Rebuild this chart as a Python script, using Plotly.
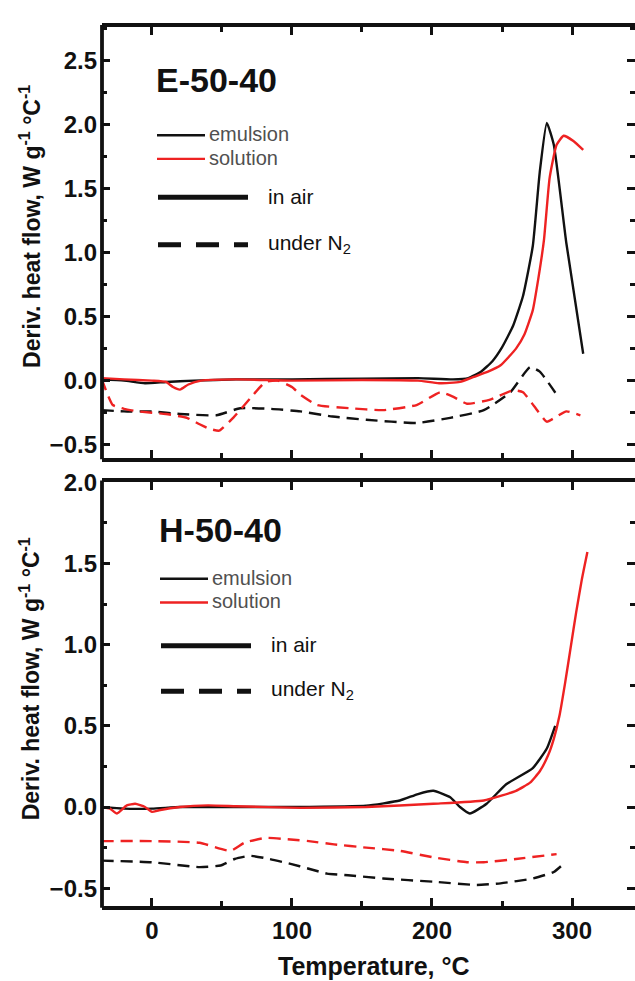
import plotly.graph_objects as go

# ---- E-50-40 (top panel) ----
e_air_emul_x = [-36, -20, -5, 10, 30, 60, 100, 150, 190, 215, 226, 235, 243, 250, 258, 265, 272, 277, 282, 287, 296, 308]
e_air_emul_y = [0.01, 0.0, -0.02, -0.01, 0.0, 0.01, 0.01, 0.015, 0.02, 0.01, 0.02, 0.07, 0.15, 0.26, 0.43, 0.66, 1.05, 1.63, 2.01, 1.84, 1.07, 0.21]

e_air_sol_x = [-36, -20, 0, 10, 15, 20, 26, 35, 60, 100, 150, 190, 205, 220, 230, 240, 249, 260, 266, 272, 276, 280, 284, 289, 294, 301, 308]
e_air_sol_y = [0.02, 0.01, 0.0, -0.01, -0.05, -0.07, -0.03, 0.0, 0.01, 0.0, 0.005, 0.0, -0.02, -0.01, 0.03, 0.07, 0.12, 0.25, 0.36, 0.55, 0.8, 1.1, 1.58, 1.84, 1.91, 1.87, 1.8]

e_n2_emul_x = [-36, -20, 0, 20, 46, 63, 85, 106, 129, 153, 189, 213, 237, 256, 270, 277, 291]
e_n2_emul_y = [-0.23, -0.24, -0.24, -0.26, -0.27, -0.215, -0.22, -0.24, -0.28, -0.305, -0.33, -0.29, -0.23, -0.09, 0.105, 0.07, -0.14]

e_n2_sol_x = [-36, -32, -28, -20, -10, 10, 25, 34, 41, 48, 58, 70, 81, 90, 100, 106, 118, 141, 165, 189, 206, 215, 225, 241, 258, 265, 273, 282, 289, 296, 306]
e_n2_sol_y = [0.015, -0.1, -0.19, -0.22, -0.24, -0.26, -0.29, -0.34, -0.375, -0.39, -0.29, -0.14, -0.01, 0.0, -0.05, -0.11, -0.19, -0.215, -0.23, -0.19, -0.09, -0.125, -0.18, -0.15, -0.075, -0.09, -0.2, -0.32, -0.28, -0.24, -0.27]

# ---- H-50-40 (bottom panel) ----
h_air_emul_x = [-36, -20, 0, 20, 50, 100, 153, 177, 190, 201, 213, 220, 227, 239, 253, 272, 282, 288]
h_air_emul_y = [0.0, -0.01, -0.01, 0.0, 0.0, 0.0, 0.008, 0.04, 0.08, 0.1, 0.06, 0.0, -0.04, 0.02, 0.14, 0.24, 0.36, 0.5]

h_air_sol_x = [-36, -30, -25, -18, -12, -5, 0, 5, 20, 40, 60, 106, 153, 201, 237, 260, 270, 277, 283, 287, 291, 295, 299, 303, 307, 311]
h_air_sol_y = [0.0, -0.01, -0.04, 0.01, 0.02, 0.0, -0.03, -0.02, 0.0, 0.01, 0.005, -0.005, 0.0, 0.02, 0.04, 0.1, 0.15, 0.22, 0.32, 0.42, 0.56, 0.76, 0.98, 1.2, 1.4, 1.57]

h_n2_emul_x = [-36, 0, 34, 49, 59, 70, 84, 99, 112, 125, 140, 165, 201, 232, 249, 272, 287, 294]
h_n2_emul_y = [-0.33, -0.34, -0.37, -0.36, -0.32, -0.30, -0.32, -0.35, -0.38, -0.41, -0.42, -0.44, -0.46, -0.48, -0.47, -0.44, -0.40, -0.35]

h_n2_sol_x = [-36, 0, 34, 56, 66, 81, 99, 112, 130, 153, 177, 201, 225, 237, 260, 289]
h_n2_sol_y = [-0.21, -0.21, -0.22, -0.27, -0.22, -0.19, -0.2, -0.21, -0.23, -0.25, -0.27, -0.31, -0.34, -0.34, -0.32, -0.29]

x_ticks = [0, 100, 200, 300]
top_y_ticks = [-0.5, 0.0, 0.5, 1.0, 1.5, 2.0, 2.5]
bot_y_ticks = [-0.5, 0.0, 0.5, 1.0, 1.5, 2.0]

W, H = 635, 981
FONT = "Liberation Sans"
BLACK = "#111111"
RED = "#ee2222"


def px(x):
    return x / W


def py(y):
    return 1 - y / H


fig = go.Figure()

series = [
    ("x", "y", e_air_emul_x, e_air_emul_y, BLACK, "solid"),
    ("x", "y", e_air_sol_x, e_air_sol_y, RED, "solid"),
    ("x", "y", e_n2_emul_x, e_n2_emul_y, BLACK, "12px,7px"),
    ("x", "y", e_n2_sol_x, e_n2_sol_y, RED, "12px,7px"),
    ("x2", "y2", h_air_emul_x, h_air_emul_y, BLACK, "solid"),
    ("x2", "y2", h_air_sol_x, h_air_sol_y, RED, "solid"),
    ("x2", "y2", h_n2_emul_x, h_n2_emul_y, BLACK, "12px,7px"),
    ("x2", "y2", h_n2_sol_x, h_n2_sol_y, RED, "12px,7px"),
]
for xa, ya, xs, ys, col, dash in series:
    fig.add_trace(go.Scatter(
        x=xs, y=ys, xaxis=xa, yaxis=ya, mode="lines",
        line=dict(color=col, width=2.4, dash=dash, shape="spline", smoothing=0.45),
        showlegend=False, hoverinfo="skip"))

x_range = [-35.7, 345]
tickfont = dict(family=FONT, size=24, color=BLACK, weight="bold")

xcommon = dict(
    range=x_range, showline=True, linewidth=3.8, linecolor=BLACK, mirror="ticks",
    ticks="inside", ticklen=8, tickwidth=3, tickcolor=BLACK,
    tickvals=x_ticks, showgrid=False, zeroline=False, tickfont=tickfont,
    minor=dict(ticks="inside", ticklen=5, tickwidth=3, tickcolor=BLACK, dtick=50, tick0=0, showgrid=False),
)
ycommon = dict(
    showline=False, mirror="ticks", ticks="inside", ticklen=8, tickwidth=3, tickcolor=BLACK,
    showgrid=False, zeroline=False, tickfont=tickfont, tickformat=".1f", ticklabelstandoff=4,
    minor=dict(ticks="inside", ticklen=5, tickwidth=3, tickcolor=BLACK, dtick=0.25, tick0=0, showgrid=False),
)

fig.update_layout(
    width=W, height=H, margin=dict(l=0, r=0, t=0, b=0),
    paper_bgcolor="white", plot_bgcolor="white",
    xaxis=dict(domain=[px(102), 1.0], anchor="y", showticklabels=False, **xcommon),
    yaxis=dict(domain=[py(450), py(13)], anchor="x", range=[-0.6, 2.76], tickvals=top_y_ticks, **ycommon),
    xaxis2=dict(domain=[px(102), 1.0], anchor="y2", showticklabels=True, **xcommon),
    yaxis2=dict(domain=[py(905), py(475)], anchor="x2", range=[-0.61, 2.0], tickvals=bot_y_ticks, **ycommon),
)

# left frame edges
for ya, xa in (("y", "x"), ("y2", "x2")):
    fig.add_shape(type="line", xref=f"{xa} domain", yref=f"{ya} domain",
                  x0=0, x1=0, y0=-0.004, y1=1.004, line=dict(color=BLACK, width=3.8))

ytitle = "Deriv. heat flow, W g<sup>-1</sup> °C<sup>-1</sup>"
for yc in (216, 675):
    fig.add_annotation(x=px(30), y=py(yc), xref="paper", yref="paper", text=ytitle,
                       textangle=-90, showarrow=False, xanchor="center", yanchor="middle",
                       font=dict(family=FONT, size=23, color=BLACK, weight="bold"))

fig.add_annotation(x=px(374), y=py(966), xref="paper", yref="paper", text="Temperature, °C",
                   showarrow=False, xanchor="center", yanchor="middle",
                   font=dict(family=FONT, size=25, color=BLACK, weight="bold"))

# panel labels and legends
panels = [("E-50-40", 154, 67, 0, 123, 147, 186, 234),
          ("H-50-40", 157, 523, 3, 573, 597, 641, 687)]
for label, lx, ly, dx, y_em, y_so, y_air, y_n2 in panels:
    fig.add_annotation(x=px(lx), y=py(ly), xref="paper", yref="paper", text=label,
                       showarrow=False, xanchor="left", yanchor="middle",
                       font=dict(family=FONT, size=34, color=BLACK, weight="bold"))
    for yy, col, txt in ((y_em, BLACK, "emulsion"), (y_so, RED, "solution")):
        fig.add_shape(type="line", xref="paper", yref="paper",
                      x0=px(157 + dx), x1=px(205 + dx), y0=py(yy), y1=py(yy),
                      line=dict(color=col, width=2.4))
        fig.add_annotation(x=px(207 + dx), y=py(yy - 1), xref="paper", yref="paper", text=txt,
                           showarrow=False, xanchor="left", yanchor="middle",
                           font=dict(family=FONT, size=20, color="#505050"))
    for yy, dash, txt in ((y_air, "solid", "in air"), (y_n2, "23px,15px", "under N<sub>2</sub>")):
        fig.add_shape(type="line", xref="paper", yref="paper",
                      x0=px(158 + dx), x1=px(248 + dx), y0=py(yy), y1=py(yy),
                      line=dict(color=BLACK, width=5, dash=dash))
        fig.add_annotation(x=px(266 + dx), y=py(yy - 1), xref="paper", yref="paper", text=txt,
                           showarrow=False, xanchor="left", yanchor="middle",
                           font=dict(family=FONT, size=21, color=BLACK))

fig.write_html("out.html")
